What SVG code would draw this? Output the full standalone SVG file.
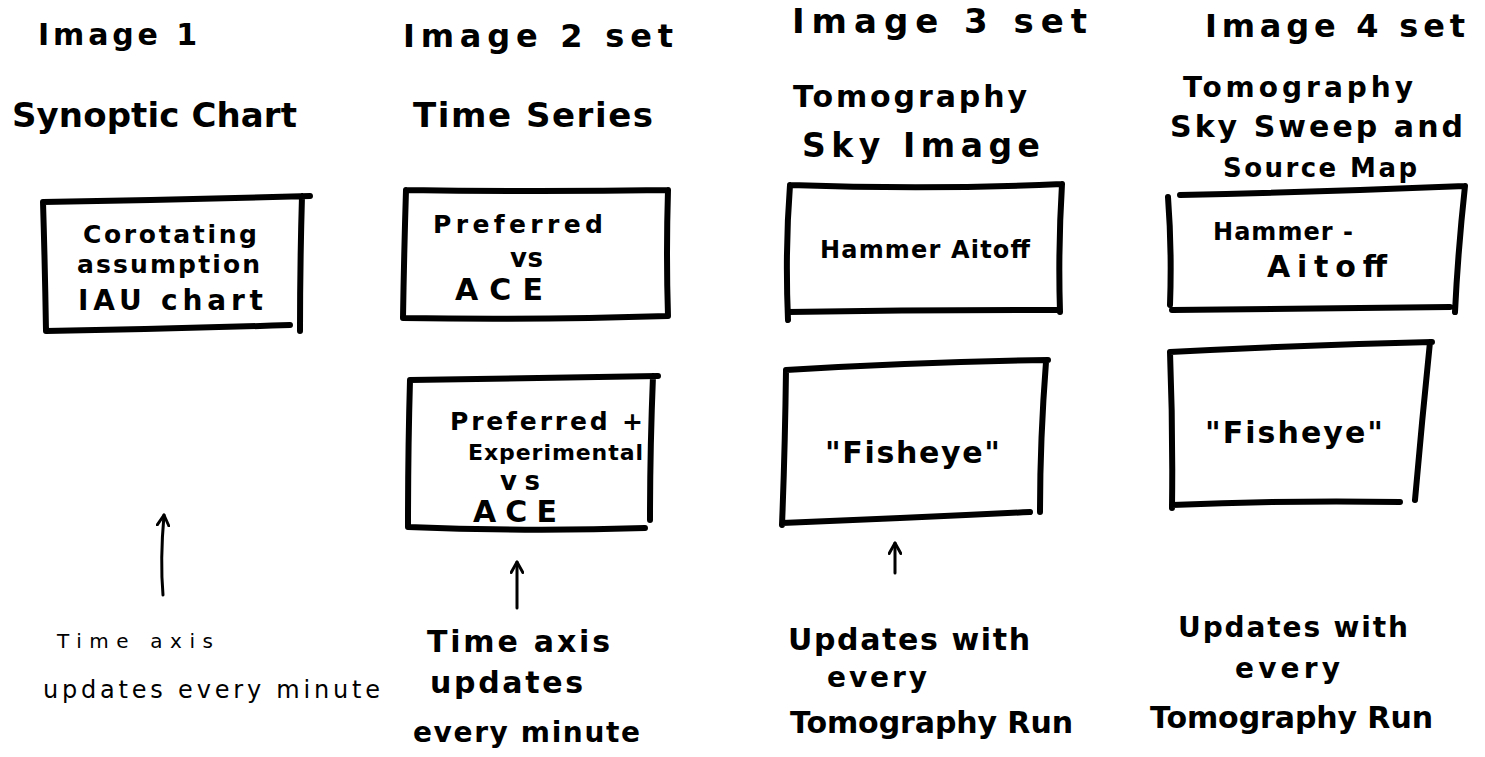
<svg xmlns="http://www.w3.org/2000/svg" width="1485" height="757" viewBox="0 0 1485 757">
<style>
text{font-family:"DejaVu Sans","Liberation Sans",sans-serif;font-weight:bold;fill:#000}
.box{fill:none;stroke:#000;stroke-width:6;stroke-linejoin:round;stroke-linecap:round}
.thin{font-weight:normal}
.arr{fill:none;stroke:#000;stroke-width:3;stroke-linecap:round}
</style>
<defs>
<marker id="head" viewBox="0 0 12 12" refX="10" refY="6" markerWidth="14" markerHeight="14" markerUnits="userSpaceOnUse" orient="auto">
<path d="M1,1 L10,6 L1,11" fill="none" stroke="#000" stroke-width="2.5" stroke-linecap="round" stroke-linejoin="round"/>
</marker>
</defs>
<rect width="1485" height="757" fill="#fff"/>

<g id="col1">
<g id="title1">
<text x="38" y="45" font-size="30" textLength="159" lengthAdjust="spacing">Image 1</text>
<text x="12" y="127" font-size="34" textLength="285" lengthAdjust="spacing">Synoptic Chart</text>
</g>
<g id="synoptic-box">
<path class="box" d="M43,202 Q180,200 310,196 M302,196 Q300,265 300,331 M43,202 Q45,268 46,331 M46,331 Q170,329 290,325"/>
<text x="83" y="243" font-size="25" textLength="174" lengthAdjust="spacing">Corotating</text>
<text x="77" y="273" font-size="25" textLength="183" lengthAdjust="spacing">assumption</text>
<text x="78" y="310" font-size="28" textLength="185" lengthAdjust="spacing">IAU chart</text>
</g>
<g id="note1">
<text class="thin" x="57" y="648" font-size="20" textLength="156" lengthAdjust="spacing">Time axis</text>
<text class="thin" x="43" y="698" font-size="24" textLength="337" lengthAdjust="spacing">updates every minute</text>
</g>
</g>

<g id="col2">
<g id="title2">
<text x="403" y="47" font-size="32" textLength="270" lengthAdjust="spacing">Image 2 set</text>
<text x="413" y="127" font-size="34" textLength="240" lengthAdjust="spacing">Time Series</text>
</g>
<g id="pref-box">
<path class="box" d="M406,190 Q540,192 668,190 M668,190 Q666,255 668,316 M406,190 Q404,255 403,318 M403,318 Q540,320 668,316"/>
<text x="433" y="233" font-size="25" textLength="170" lengthAdjust="spacing">Preferred</text>
<text x="510" y="267" font-size="26" textLength="33" lengthAdjust="spacing">vs</text>
<text x="455" y="300" font-size="30" textLength="88" lengthAdjust="spacing">ACE</text>
</g>
<g id="pref-exp-box">
<path class="box" d="M410,380 Q530,378 658,376 M410,380 Q408,450 408,527 M408,527 Q530,532 645,528 M653,376 Q650,450 650,520"/>
<text x="450" y="430" font-size="25" textLength="193" lengthAdjust="spacing">Preferred +</text>
<text x="468" y="460" font-size="22" textLength="175" lengthAdjust="spacing">Experimental</text>
<text x="500" y="490" font-size="26" textLength="40" lengthAdjust="spacing">vs</text>
<text x="473" y="522" font-size="30" textLength="84" lengthAdjust="spacing">ACE</text>
</g>
<g id="note2">
<text x="427" y="652" font-size="30" textLength="183" lengthAdjust="spacing">Time axis</text>
<text x="430" y="693" font-size="30" textLength="153" lengthAdjust="spacing">updates</text>
<text x="413" y="742" font-size="28" textLength="227" lengthAdjust="spacing">every minute</text>
</g>
</g>

<g id="col3">
<g id="title3">
<text x="792" y="33" font-size="34" textLength="295" lengthAdjust="spacing">Image 3 set</text>
<text x="793" y="107" font-size="30" textLength="234" lengthAdjust="spacing">Tomography</text>
<text x="802" y="157" font-size="33" textLength="238" lengthAdjust="spacing">Sky Image</text>
</g>
<g id="hammer-box3">
<path class="box" d="M790,185 Q930,190 1062,184 M1062,184 Q1058,250 1060,312 M790,185 Q785,250 788,320 M788,312 Q920,310 1060,310"/>
<text x="820" y="258" font-size="24" textLength="210" lengthAdjust="spacing">Hammer Aitoff</text>
</g>
<g id="fisheye-box3">
<path class="box" d="M786,370 Q920,362 1048,360 M1046,362 Q1040,440 1040,512 M786,370 Q785,450 782,525 M782,523 Q910,518 1030,512"/>
<text x="825" y="463" font-size="30" textLength="175" lengthAdjust="spacing">"Fisheye"</text>
</g>
<g id="note3">
<text x="788" y="650" font-size="30" textLength="242" lengthAdjust="spacing">Updates with</text>
<text x="827" y="687" font-size="28" textLength="100" lengthAdjust="spacing">every</text>
<text x="790" y="733" font-size="30" textLength="283" lengthAdjust="spacing">Tomography Run</text>
</g>
</g>

<g id="col4">
<g id="title4">
<text x="1205" y="37" font-size="32" textLength="260" lengthAdjust="spacing">Image 4 set</text>
<text x="1183" y="97" font-size="28" textLength="230" lengthAdjust="spacing">Tomography</text>
<text x="1170" y="137" font-size="30" textLength="293" lengthAdjust="spacing">Sky Sweep and</text>
<text x="1223" y="177" font-size="26" textLength="194" lengthAdjust="spacing">Source Map</text>
</g>
<g id="hammer-box4">
<path class="box" d="M1180,195 Q1320,192 1465,186 M1465,186 Q1458,250 1455,312 M1168,197 Q1172,250 1170,305 M1172,310 Q1310,308 1450,307"/>
<text x="1213" y="240" font-size="24" textLength="140" lengthAdjust="spacing">Hammer -</text>
<text x="1267" y="277" font-size="30" textLength="120" lengthAdjust="spacing">Aitoff</text>
</g>
<g id="fisheye-box4">
<path class="box" d="M1170,352 Q1300,345 1432,342 M1430,342 Q1422,420 1415,500 M1170,352 Q1173,430 1172,508 M1172,505 Q1290,500 1400,502"/>
<text x="1205" y="443" font-size="30" textLength="178" lengthAdjust="spacing">"Fisheye"</text>
</g>
<g id="note4">
<text x="1178" y="637" font-size="28" textLength="230" lengthAdjust="spacing">Updates with</text>
<text x="1235" y="678" font-size="28" textLength="105" lengthAdjust="spacing">every</text>
<text x="1150" y="728" font-size="30" textLength="283" lengthAdjust="spacing">Tomography Run</text>
</g>
</g>

<g id="connectors">
<path class="arr" d="M163,595 Q160,560 164,515" marker-end="url(#head)"/>
<path class="arr" d="M517,608 L517,562" marker-end="url(#head)"/>
<path class="arr" d="M895,573 L895,543" marker-end="url(#head)"/>
</g>
</svg>
